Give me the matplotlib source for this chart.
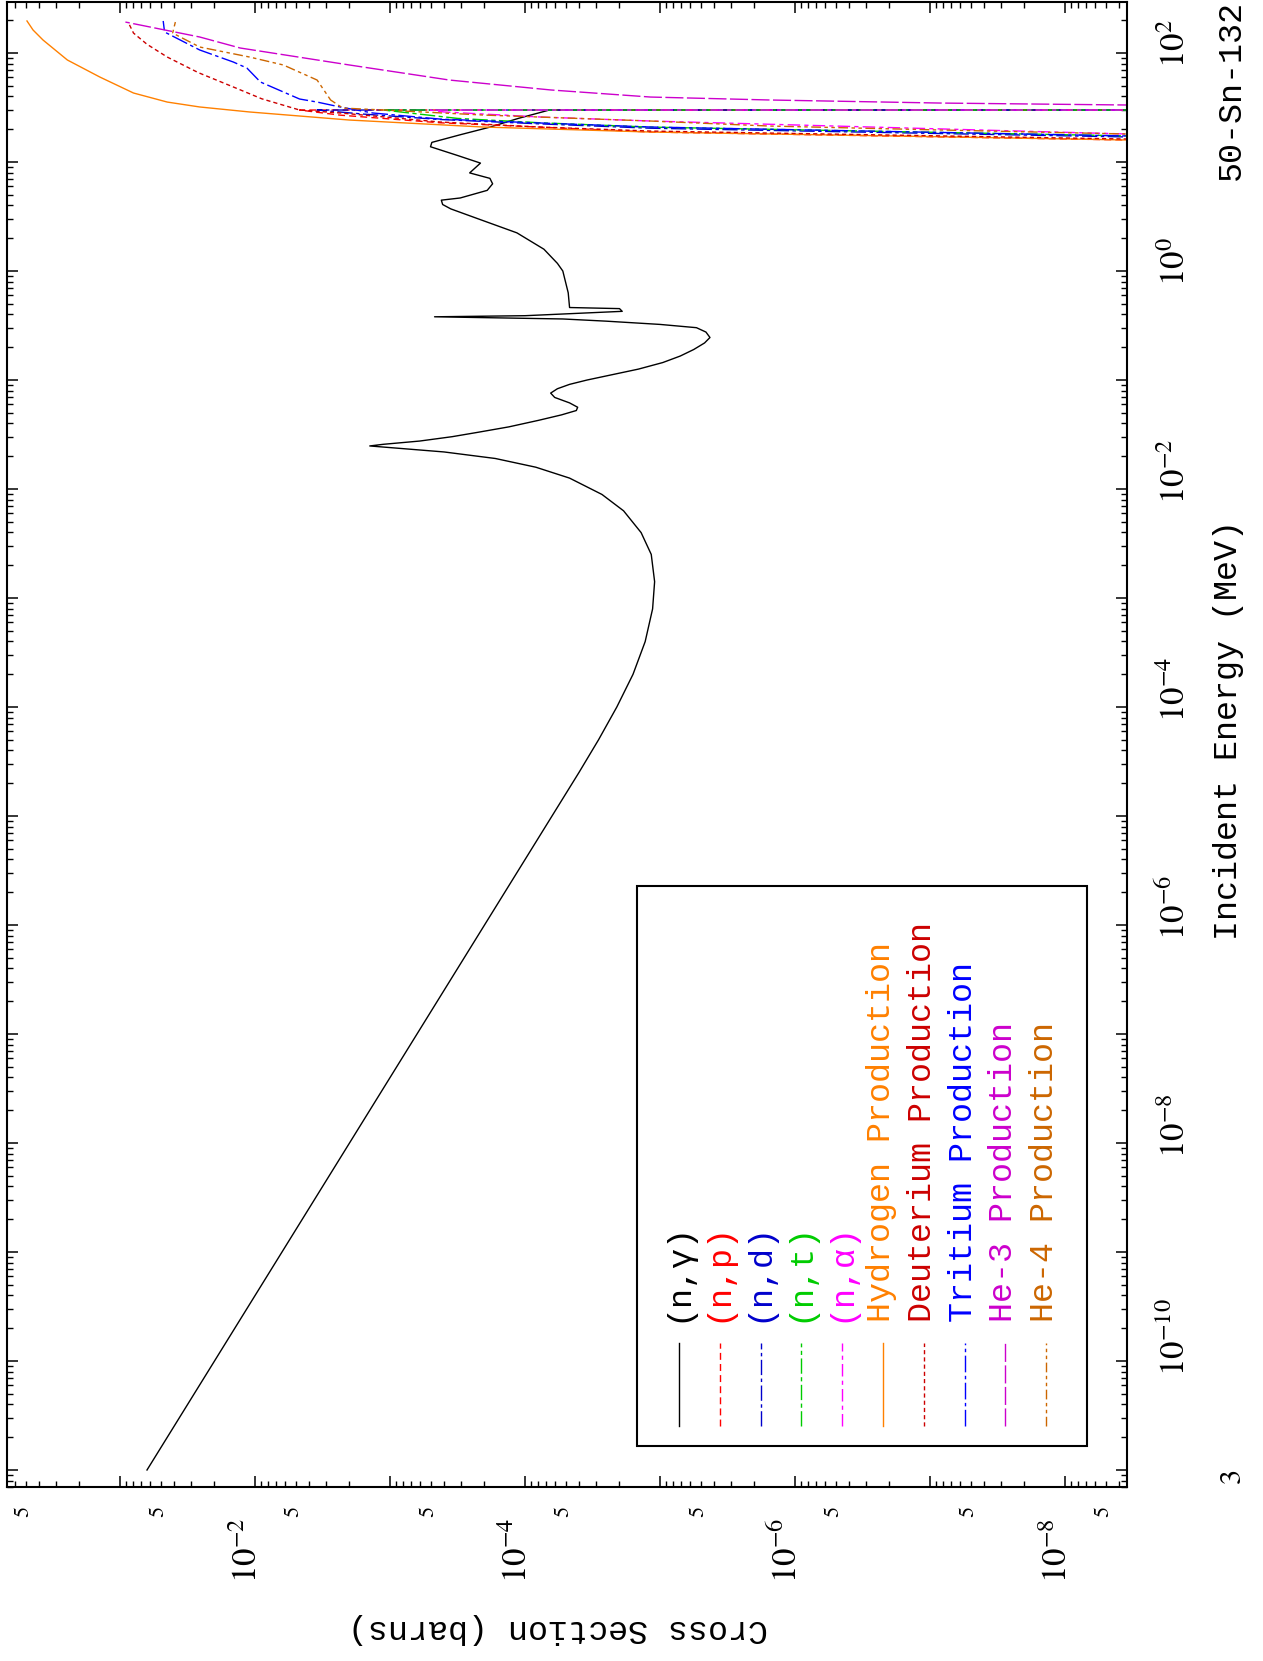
import matplotlib
matplotlib.use('Agg')
import matplotlib.pyplot as plt
from matplotlib.ticker import LogLocator, NullFormatter
from matplotlib.lines import Line2D
from matplotlib.patches import Rectangle
import matplotlib.transforms as mtransforms
import numpy as np

plt.rcParams['lines.scale_dashes'] = False
plt.rcParams['mathtext.fontset'] = 'stix'

# ---- data: log10(E / MeV) and log10(sigma / barns) ----
ng_logE = [-11.0, -6.0, -5.0, -4.6, -4.3, -4.0, -3.7, -3.4, -3.1, -2.85, -2.6, -2.4, -2.2, -2.05,
           -1.9, -1.8, -1.72, -1.66, -1.62, -1.605, -1.59, -1.56, -1.52, -1.48, -1.43, -1.37,
           -1.32, -1.28, -1.25, -1.21, -1.16, -1.12, -1.08, -1.04, -1.0, -0.95, -0.90, -0.84,
           -0.78, -0.72, -0.66, -0.61, -0.56, -0.52, -0.49, -0.46, -0.44, -0.42, -0.41, -0.37,
           -0.345, -0.335, -0.20, -0.10, 0.0, 0.07, 0.20, 0.35, 0.48, 0.57, 0.61, 0.65, 0.67,
           0.74, 0.80, 0.85, 0.90, 0.99, 1.06, 1.14, 1.18, 1.25, 1.32, 1.40, 1.46, 1.477, 1.477]
ng_logS = [-1.20, -3.70, -4.20, -4.40, -4.545, -4.68, -4.80, -4.89, -4.945, -4.96, -4.935, -4.86, -4.73, -4.57,
           -4.33, -4.08, -3.78, -3.40, -3.00, -2.85, -2.95, -3.22, -3.46, -3.65, -3.88, -4.10,
           -4.27, -4.38, -4.39, -4.33, -4.22, -4.19, -4.24, -4.33, -4.46, -4.65, -4.84, -5.02,
           -5.15, -5.25, -5.33, -5.37, -5.34, -5.27, -5.00, -4.60, -4.28, -3.33, -4.00, -4.72,
           -4.70, -4.33, -4.32, -4.30, -4.28, -4.24, -4.14, -3.94, -3.65, -3.45, -3.39, -3.38, -3.52,
           -3.72, -3.76, -3.74, -3.59, -3.67, -3.50, -3.30, -3.31, -3.52, -3.74, -3.95, -4.13, -4.18, -12.0]

np_logE = [1.195, 1.202, 1.275, 1.32, 1.36, 1.43, 1.477, 1.477]
np_logS = [-9.0, -8.46, -4.93, -4.11, -3.37, -2.63, -2.33, -12.0]

nd_logE = [1.22, 1.23, 1.31, 1.35, 1.39, 1.44, 1.477, 1.477]
nd_logS = [-9.0, -8.46, -4.93, -4.11, -3.37, -2.80, -2.46, -12.0]

nt_logE = [1.235, 1.24, 1.32, 1.36, 1.40, 1.477, 1.477]
nt_logS = [-9.0, -8.46, -4.93, -4.11, -3.50, -2.95, -12.0]

na_logE = [1.25, 1.257, 1.376, 1.413, 1.459, 1.477, 1.477]
na_logS = [-9.0, -8.46, -4.93, -4.11, -3.40, -3.30, -12.0]

h_logE = [1.19, 1.202, 1.238, 1.275, 1.321, 1.385, 1.422, 1.459, 1.505, 1.55, 1.633, 1.78,
          1.936, 2.119, 2.211, 2.294]
h_logS = [-9.0, -8.46, -6.78, -4.93, -3.69, -2.70, -2.33, -1.96, -1.59, -1.35, -1.10, -0.85,
          -0.61, -0.43, -0.356, -0.311]

d_logE = [1.20, 1.211, 1.284, 1.321, 1.367, 1.450, 1.477, 1.58, 1.688, 1.82, 1.963, 2.08, 2.183, 2.284]
d_logS = [-9.0, -8.46, -4.93, -4.11, -3.37, -2.63, -2.33, -2.05, -1.84, -1.58, -1.35, -1.20, -1.10, -1.06]

t_logE = [1.23, 1.239, 1.321, 1.358, 1.394, 1.450, 1.505, 1.550, 1.578, 1.734, 1.862, 1.917, 2.028, 2.193, 2.294]
t_logS = [-9.0, -8.46, -4.93, -4.11, -3.37, -2.87, -2.63, -2.46, -2.33, -2.04, -1.94, -1.84, -1.59, -1.33, -1.32]

he3_logE = [1.52, 1.523, 1.541, 1.569, 1.596, 1.661, 1.752, 1.890, 2.046, 2.147, 2.284]
he3_logS = [-9.0, -8.46, -7.07, -5.81, -4.93, -4.19, -3.44, -2.70, -1.89, -1.59, -1.04]

he4_logE = [1.25, 1.257, 1.294, 1.330, 1.376, 1.431, 1.477, 1.495, 1.569, 1.752, 1.890, 1.963, 2.055, 2.183, 2.284]
he4_logS = [-9.0, -8.46, -7.07, -5.81, -4.93, -3.69, -2.95, -2.65, -2.56, -2.46, -2.21, -1.96, -1.59, -1.39, -1.41]

labels = ['(n,\u03b3)', '(n,p)', '(n,d)', '(n,t)', '(n,\u03b1)',
          'Hydrogen Production', 'Deuterium Production', 'Tritium Production',
          'He-3 Production', 'He-4 Production']
colors = ['#000000', '#ff0000', '#0000cc', '#00cc00', '#ff00ff',
          '#ff8000', '#cc0000', '#0000ff', '#cc00cc', '#cc6600']
styles = ['-', (0, (5, 3)), (0, (11, 2.5, 2.5, 2.5)), (0, (11, 2.5, 3, 2.5)), (0, (9, 3, 3, 3)),
          '-', (0, (3, 2.2)), (0, (12, 2.5, 2.5, 2.5)), (0, (13, 2.5)),
          (0, (7, 2.5, 2.5, 2.5, 2.5, 2.5))]
series = [(ng_logE, ng_logS), (np_logE, np_logS), (nd_logE, nd_logS), (nt_logE, nt_logS),
          (na_logE, na_logS), (h_logE, h_logS), (d_logE, d_logS), (t_logE, t_logS),
          (he3_logE, he3_logS), (he4_logE, he4_logS)]

e_label_exps = [2, 0, -2, -4, -6, -8, -10]
s_label_exps = [-2, -4, -6, -8]
s_five_exps = [-1, -2, -3, -4, -5, -6, -7, -8, -9]

# ---- figure (page is rotated: energy runs up, cross section runs left) ----
W, H = 1263, 1661
fig = plt.figure(figsize=(W / 100, H / 100), dpi=100)
ax_l, ax_r, ax_t, ax_b = 7, 1127, 2, 1487
ax = fig.add_axes([ax_l / W, 1 - ax_b / H, (ax_r - ax_l) / W, (ax_b - ax_t) / H])

for (le, ls_), c, st in zip(series, colors, styles):
    ax.plot(10 ** np.array(ls_), 10 ** np.array(le), color=c, linestyle=st, lw=1.0)

ax.set_xscale('log')
ax.set_yscale('log')
ax.set_xlim(10 ** -0.163, 10 ** -8.459)
ax.set_ylim(10 ** -11.156, 10 ** 2.468)

for axis in (ax.xaxis, ax.yaxis):
    axis.set_major_locator(LogLocator(base=10, numticks=40))
    axis.set_minor_locator(LogLocator(base=10, subs=np.arange(2, 10), numticks=40))
    axis.set_major_formatter(NullFormatter())
    axis.set_minor_formatter(NullFormatter())
ax.tick_params(which='both', direction='in', top=True, right=True, bottom=True, left=True)
ax.tick_params(which='major', length=8, width=1.1)
ax.tick_params(which='minor', length=4.5, width=1.0)
for sp in ax.spines.values():
    sp.set_linewidth(1.5)

# tick labels, drawn rotated
mono = ['Liberation Mono', 'DejaVu Sans Mono']
ex_tr = mtransforms.offset_copy(ax.get_xaxis_transform(), fig=fig, x=2, y=-96, units='dots')
for n in s_label_exps:
    ax.text(10.0 ** n, 0, r'$10^{%d}$' % n, transform=ex_tr, rotation=90,
            rotation_mode='anchor', ha='left', va='baseline', fontsize=25)
f_tr = mtransforms.offset_copy(ax.get_xaxis_transform(), fig=fig, x=2.5, y=-30, units='dots')
for n in s_five_exps:
    ax.text(5 * 10.0 ** n, 0, '5', transform=f_tr, rotation=90,
            rotation_mode='anchor', ha='left', va='baseline', fontsize=16,
            family='STIXGeneral')
ey_tr = mtransforms.offset_copy(ax.get_yaxis_transform(), fig=fig, x=58, y=-15, units='dots')
for n in e_label_exps:
    ax.text(1, 10.0 ** n, r'$10^{%d}$' % n, transform=ey_tr, rotation=90,
            rotation_mode='anchor', ha='left', va='baseline', fontsize=25)


def fp(x, y):
    return x / W, 1 - y / H


fig.text(*fp(558, 1620), 'Cross Section (barns)', rotation=180, rotation_mode='anchor',
         ha='center', va='baseline', fontsize=24, family=mono)
fig.text(*fp(1237, 940), 'Incident Energy (MeV)', rotation=90, rotation_mode='anchor',
         ha='left', va='baseline', fontsize=24, family=mono)
fig.text(*fp(1240, 180), '50-Sn-132', rotation=90, rotation_mode='anchor',
         ha='left', va='baseline', fontsize=24, family=mono)
fig.text(*fp(1240, 1483), '3', rotation=90, rotation_mode='anchor',
         ha='left', va='baseline', fontsize=22, family='STIXGeneral')

# legend, rotated with the page
bx0, by0 = fp(637, 1446)
bx1, by1 = fp(1087, 886)
fig.add_artist(Rectangle((bx0, by0), bx1 - bx0, by1 - by0, transform=fig.transFigure,
                         facecolor='white', edgecolor='black', lw=1.5))
for i, (lab, c, st) in enumerate(zip(labels, colors, styles)):
    x = 679 + 40.8 * i
    xa, ya = fp(x, 1426)
    _, yb = fp(x, 1343)
    fig.add_artist(Line2D([xa, xa], [ya, yb], transform=fig.transFigure,
                          color=c, linestyle=st, lw=1.0))
    fig.text(*fp(x + 7, 1322), lab, color=c, rotation=90, rotation_mode='anchor',
             ha='left', va='baseline', fontsize=24, family=mono)

fig.savefig('out.png', dpi=100)
